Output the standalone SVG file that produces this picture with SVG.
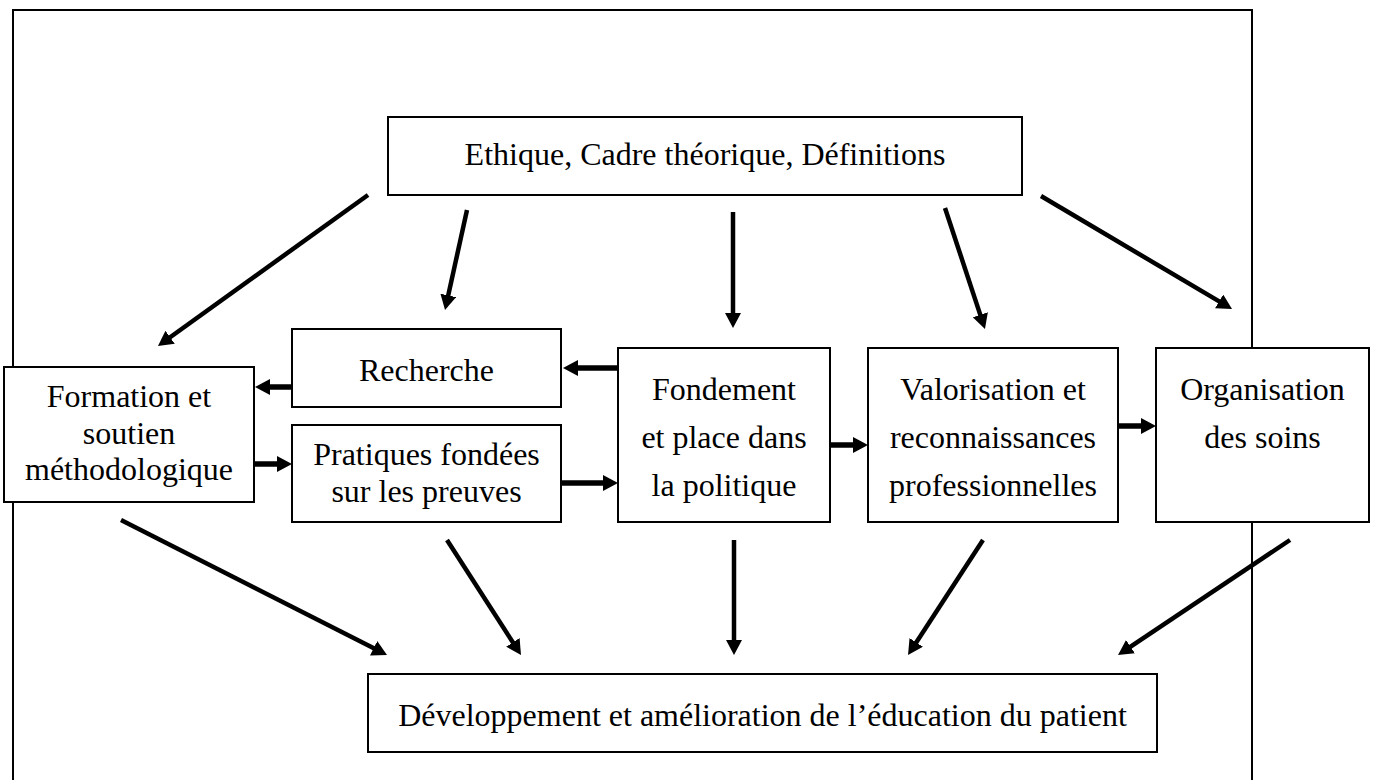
<svg xmlns="http://www.w3.org/2000/svg" width="1377" height="780" viewBox="0 0 1377 780">
<style>
.box{fill:#fff;stroke:#000;stroke-width:2}
.frame{fill:none;stroke:#000;stroke-width:2}
.t{font-family:"Liberation Serif","Times New Roman",serif;font-size:32px;fill:#000;text-anchor:middle}
.a{stroke:#000;stroke-width:4.5;fill:none;marker-end:url(#ah)}
.h{stroke:#000;stroke-width:5.5;fill:none;marker-end:url(#ah)}
</style>
<defs>
<marker id="ah" markerUnits="userSpaceOnUse" markerWidth="16" markerHeight="16" refX="3" refY="8" orient="auto">
<path d="M0,0 L15,8 L0,16 z" fill="#000"/>
</marker>
</defs>
<rect width="1377" height="780" fill="#fff"/>
<path class="frame" d="M13,790 L13,10 L1252,10 L1252,790"/>
<g id="connectors">
<line class="a" x1="368" y1="195" x2="167.7" y2="339"/>
<line class="a" x1="467" y1="210" x2="447.6" y2="298.3"/>
<line class="a" x1="733" y1="212" x2="733" y2="316"/>
<line class="a" x1="945" y1="208" x2="981.2" y2="317.6"/>
<line class="a" x1="1041" y1="196" x2="1221.7" y2="302.9"/>
<line class="h" x1="618" y1="368" x2="575" y2="368"/>
<line class="h" x1="292" y1="387" x2="267" y2="387"/>
<line class="h" x1="254" y1="464" x2="280" y2="464"/>
<line class="h" x1="561" y1="483" x2="606" y2="483"/>
<line class="h" x1="830" y1="445" x2="856" y2="445"/>
<line class="h" x1="1118" y1="426" x2="1144" y2="426"/>
<line class="a" x1="121" y1="520" x2="376.3" y2="649.6"/>
<line class="a" x1="447" y1="540" x2="514.5" y2="644.9"/>
<line class="a" x1="734" y1="540" x2="734" y2="643"/>
<line class="a" x1="983" y1="540" x2="914.6" y2="644.9"/>
<line class="a" x1="1290" y1="540" x2="1128" y2="648.3"/>
</g>
<g id="ethique">
<rect class="box" x="388" y="117" width="634" height="78"/>
<text class="t" x="705" y="165">Ethique, Cadre théorique, Définitions</text>
</g>
<g id="formation">
<rect class="box" x="4" y="367" width="250" height="135"/>
<text class="t" x="129" y="407">Formation et</text>
<text class="t" x="129" y="444">soutien</text>
<text class="t" x="129" y="480">méthodologique</text>
</g>
<g id="recherche">
<rect class="box" x="292" y="329" width="269" height="78"/>
<text class="t" x="426.5" y="381">Recherche</text>
</g>
<g id="pratiques">
<rect class="box" x="292" y="425" width="269" height="97"/>
<text class="t" x="426.5" y="465">Pratiques fondées</text>
<text class="t" x="426.5" y="502">sur les preuves</text>
</g>
<g id="fondement">
<rect class="box" x="618" y="348" width="212" height="174"/>
<text class="t" x="724" y="400">Fondement</text>
<text class="t" x="724" y="448">et place dans</text>
<text class="t" x="724" y="496">la politique</text>
</g>
<g id="valorisation">
<rect class="box" x="868" y="348" width="250" height="174"/>
<text class="t" x="993" y="400">Valorisation et</text>
<text class="t" x="993" y="448">reconnaissances</text>
<text class="t" x="993" y="496">professionnelles</text>
</g>
<g id="organisation">
<rect class="box" x="1156" y="348" width="213" height="174"/>
<text class="t" x="1262.5" y="400">Organisation</text>
<text class="t" x="1262.5" y="448">des soins</text>
</g>
<g id="developpement">
<rect class="box" x="368" y="674" width="789" height="78"/>
<text class="t" x="762.5" y="726">Développement et amélioration de l’éducation du patient</text>
</g>
</svg>
